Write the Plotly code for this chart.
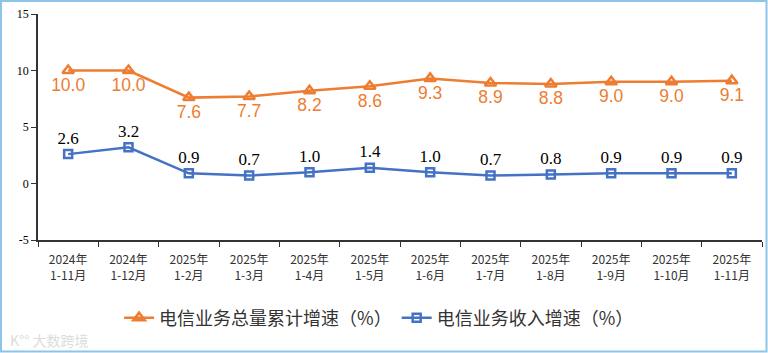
import plotly.graph_objects as go

categories = ["2024年<br>1-11月", "2024年<br>1-12月", "2025年<br>1-2月", "2025年<br>1-3月",
              "2025年<br>1-4月", "2025年<br>1-5月", "2025年<br>1-6月", "2025年<br>1-7月",
              "2025年<br>1-8月", "2025年<br>1-9月", "2025年<br>1-10月", "2025年<br>1-11月"]
volume_growth = [10.0, 10.0, 7.6, 7.7, 8.2, 8.6, 9.3, 8.9, 8.8, 9.0, 9.0, 9.1]
revenue_growth = [2.6, 3.2, 0.9, 0.7, 1.0, 1.4, 1.0, 0.7, 0.8, 0.9, 0.9, 0.9]
y_ticks = [-5, 0, 5, 10, 15]
y_tick_labels = ["-5", "0", "5", "10", "15"]

orange = "#ED7D31"
blue = "#4472C4"

fig = go.Figure()
fig.add_trace(go.Scatter(
    x=categories, y=volume_growth, name="电信业务总量累计增速（%）",
    mode="lines+markers+text",
    line=dict(color=orange, width=2.5),
    marker=dict(symbol="triangle-up-open", size=10, color=orange, line=dict(width=2.5, color=orange)),
    text=[f"{v:.1f}" for v in volume_growth], textposition="bottom center",
    textfont=dict(family="Liberation Sans, Arial", size=17.5, color=orange),
))
fig.add_trace(go.Scatter(
    x=categories, y=revenue_growth, name="电信业务收入增速（%）",
    mode="lines+markers+text",
    line=dict(color=blue, width=2.5),
    marker=dict(symbol="square-open", size=8, color=blue, line=dict(width=2.5, color=blue)),
    text=[f"{v:.1f}" for v in revenue_growth], textposition="top center",
    textfont=dict(family="Liberation Serif, Times New Roman", size=17, color="black"),
))

fig.update_layout(
    width=768, height=353,
    margin=dict(l=38, r=6, t=14, b=113),
    paper_bgcolor="white", plot_bgcolor="white",
    showlegend=True,
    legend=dict(orientation="h", x=0.112, xanchor="left", y=-0.345, yanchor="middle",
                font=dict(family="Noto Sans CJK SC", size=18, color="#333333"),
                itemwidth=30, bgcolor="rgba(0,0,0,0)"),
    xaxis=dict(type="category", showline=True, linecolor="#333333", linewidth=1.5,
               ticks="outside", tickson="boundaries", ticklen=5, tickcolor="#333333",
               showgrid=False, tickfont=dict(family="Noto Sans CJK SC", size=12, color="#333333"),
               ticklabelstandoff=8, range=[-0.5, 11.5]),
    yaxis=dict(range=[-5, 15], tickvals=y_ticks, ticktext=y_tick_labels, showline=True,
               linecolor="#333333", linewidth=1.5,
               ticks="outside", ticklen=5, tickcolor="#333333", showgrid=False, zeroline=False,
               tickfont=dict(family="Liberation Serif, Times New Roman", size=12, color="black")),
    shapes=[dict(type="rect", xref="paper", yref="paper",
                 x0=-37/724, x1=(766.5-38)/724, y0=(240-351.5)/226, y1=(240-1)/226,
                 line=dict(color="#8CC4EA", width=2), fillcolor="rgba(0,0,0,0)", layer="below")],
    annotations=[dict(text="K°° 大数跨境", xref="paper", yref="paper",
                      x=(8-38)/724, y=(240-340)/226, xanchor="left", yanchor="middle",
                      showarrow=False, font=dict(family="Noto Sans CJK SC", size=14, color="#DDDDDD"))],
)

fig.write_html("out.html")
